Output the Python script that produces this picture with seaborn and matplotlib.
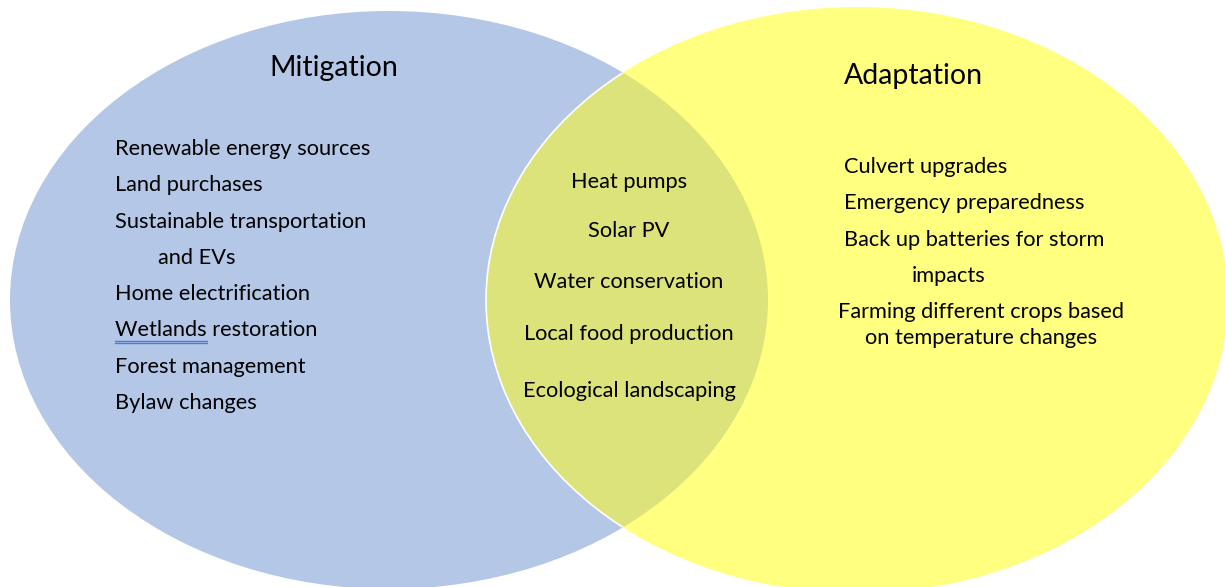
import numpy as np
import seaborn as sns
import matplotlib.pyplot as plt
from matplotlib.patches import Ellipse

# Venn diagram content
set_titles = ["Mitigation", "Adaptation"]
set_colors = ["#B4C7E7", "#FFFF80"]
overlap_color = "#DCE37A"

mitigation_items = [
    "Renewable energy sources",
    "Land purchases",
    "Sustainable transportation",
    "and EVs",
    "Home electrification",
    "Wetlands restoration",
    "Forest management",
    "Bylaw changes",
]
overlap_items = [
    "Heat pumps",
    "Solar PV",
    "Water conservation",
    "Local food production",
    "Ecological landscaping",
]
adaptation_items = [
    "Culvert upgrades",
    "Emergency preparedness",
    "Back up batteries for storm",
    "impacts",
]
adaptation_wrapped = ["Farming different crops based", "on temperature changes"]

sns.set_theme(style="white")
plt.rcParams["font.family"] = ["Lato", "DejaVu Sans"]

W, H = 1225, 587
fig = plt.figure(figsize=(W / 100, H / 100), dpi=100)
ax = fig.add_axes([0, 0, 1, 1])
ax.set_xlim(0, W)
ax.set_ylim(H, 0)
ax.axis("off")

# ellipse geometry (pixel space): centre x, centre y, width, height
left_geo = (389, 300, 758, 578)
right_geo = (857, 300, 742, 586)

left = Ellipse(left_geo[:2], left_geo[2], left_geo[3], facecolor=set_colors[0], edgecolor="none", zorder=1)
right = Ellipse(right_geo[:2], right_geo[2], right_geo[3], facecolor=set_colors[1],
                edgecolor="none", zorder=2)
ax.add_patch(left)
ax.add_patch(right)

# overlap region: left ellipse clipped to the right one
mid = Ellipse(left_geo[:2], left_geo[2], left_geo[3], facecolor=overlap_color, edgecolor="none", zorder=3)
ax.add_patch(mid)
mid.set_clip_path(right)
edge = Ellipse(right_geo[:2], right_geo[2], right_geo[3], facecolor="none",
               edgecolor="white", linewidth=1.2, zorder=4)
ax.add_patch(edge)
edge.set_clip_path(left)

txt = dict(color="black", fontsize=15.7, va="center", zorder=5)
title_kw = dict(color="black", fontsize=20.5, ha="center", va="center", zorder=5)

ax.text(334, 68, set_titles[0], **title_kw)
ax.text(913, 76, set_titles[1], **title_kw)

dy0 = 2  # small baseline nudge
step = 36.3
mit_indent = [0, 0, 0, 43, 0, 0, 0, 0]
for i, item in enumerate(mitigation_items):
    ax.text(115 + mit_indent[i], 147 + dy0 + i * step, item, ha="left", **txt)

# spell-check underline under "Wetlands"
fig.canvas.draw()
probe = ax.text(115, 0, "Wetlands", ha="left", alpha=0, **txt)
bb = probe.get_window_extent(fig.canvas.get_renderer())
probe.remove()
y_wet = 147 + dy0 + 5 * step
for dy in (10.5, 12.5):
    ax.plot([bb.x0, bb.x1], [y_wet + dy, y_wet + dy], color="#4A7BD8", lw=1, zorder=5)

overlap_y = [180, 229, 280, 332, 389]
for item, y in zip(overlap_items, overlap_y):
    ax.text(629, y + dy0, item, ha="center", **txt)

ad_indent = [0, 0, 0, 68]
for i, item in enumerate(adaptation_items):
    ax.text(844 + ad_indent[i], 165 + dy0 + i * step, item, ha="left", **txt)
for i, item in enumerate(adaptation_wrapped):
    ax.text(981, 310 + dy0 + i * 26, item, ha="center", **txt)

fig.savefig("out.png", dpi=100, facecolor="white")
